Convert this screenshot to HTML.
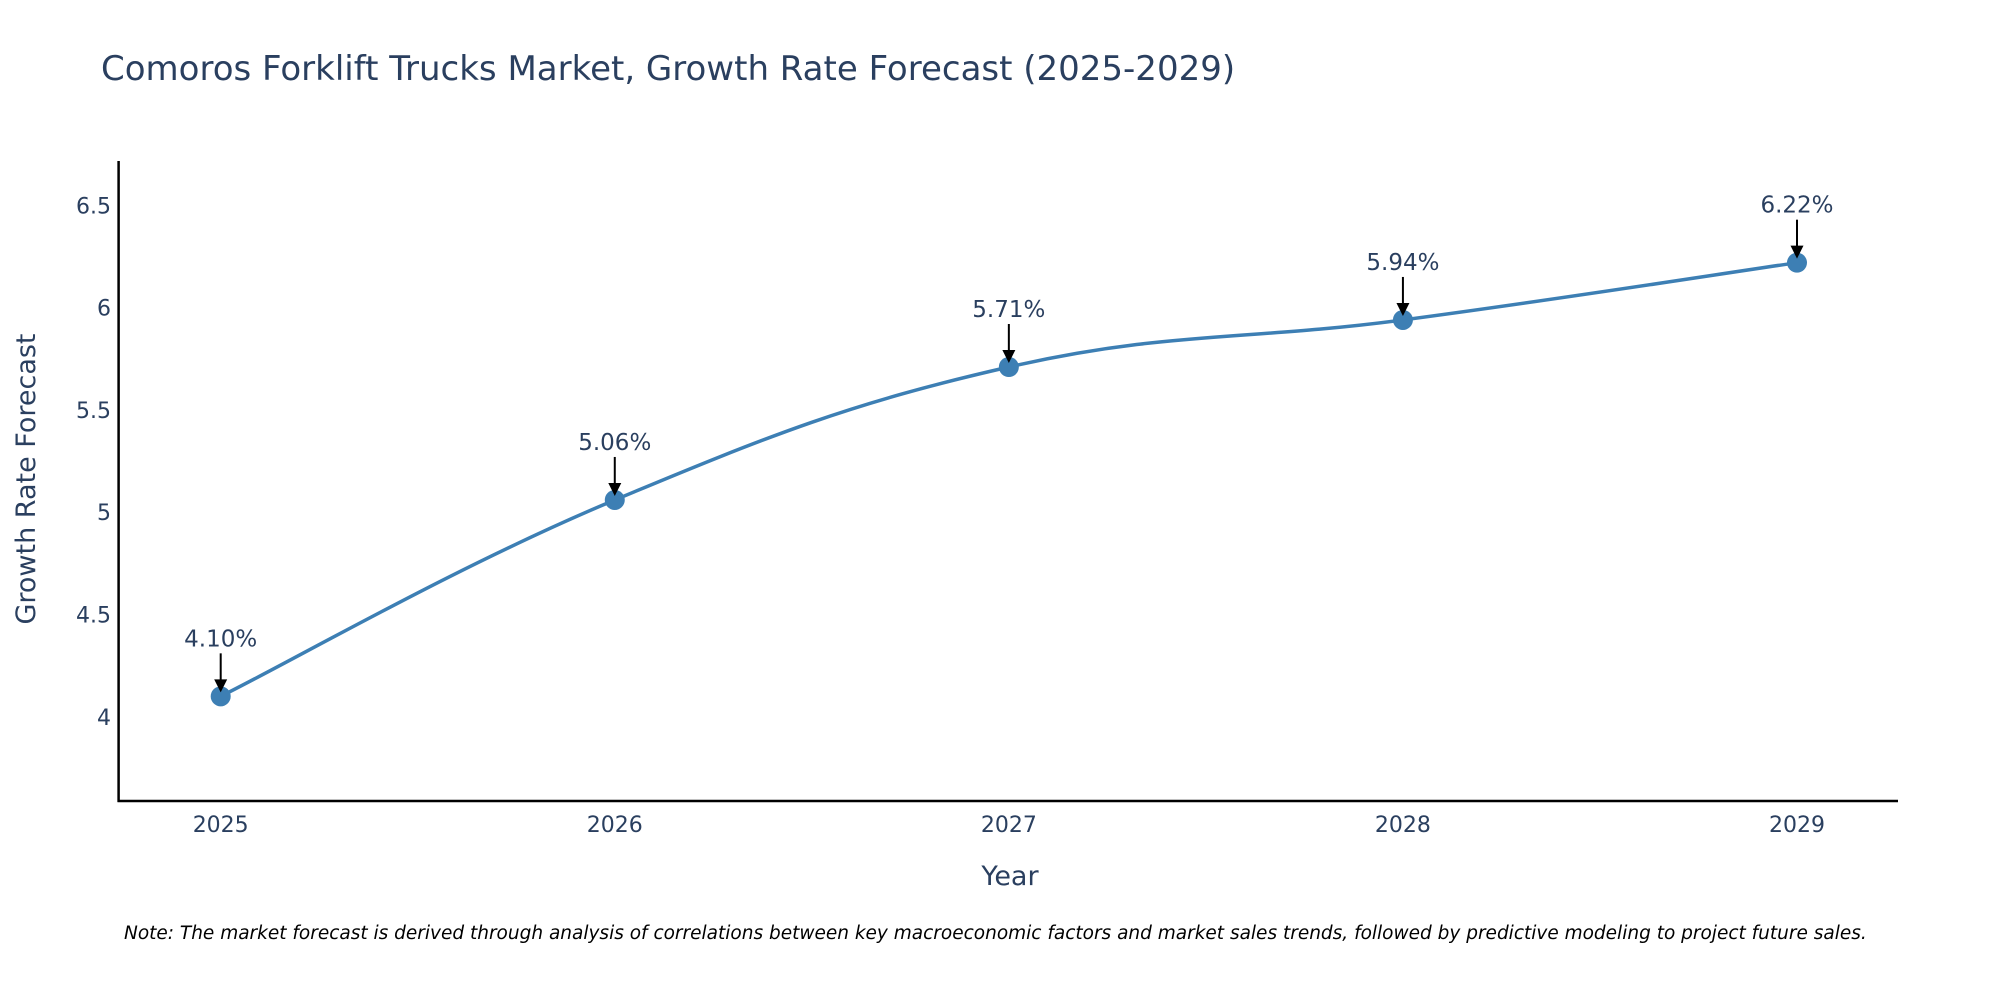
<!DOCTYPE html>
<html><head><meta charset="utf-8"><style>
html,body{margin:0;padding:0;background:#fff;}
svg{display:block;font-family:"DejaVu Sans","Liberation Sans",sans-serif;}
</style></head><body>
<svg id="chart" width="2000" height="1000" viewBox="0 0 2000 1000">
<text x="101" y="80" font-size="34" fill="#2a3f5f">Comoros Forklift Trucks Market, Growth Rate Forecast (2025-2029)</text>
<g id="yticks"></g>
<g id="xticks"></g>
<line x1="118.6" y1="161" x2="118.6" y2="802" stroke="#000" stroke-width="2.5"/>
<line x1="117.5" y1="801" x2="1898" y2="801" stroke="#000" stroke-width="2.5"/>
<g id="series"></g>
<g id="annots"></g>
<text x="1010" y="885" font-size="27" fill="#2a3f5f" text-anchor="middle">Year</text>
<text transform="translate(35,479) rotate(-90)" font-size="27" fill="#2a3f5f" text-anchor="middle">Growth Rate Forecast</text>
<text x="124" y="939" font-size="18.5" font-style="italic" fill="#000">Note: The market forecast is derived through analysis of correlations between key macroeconomic factors and market sales trends, followed by predictive modeling to project future sales.</text>
</svg>
<script>
const years = [2025, 2026, 2027, 2028, 2029];
const values = [4.10, 5.06, 5.71, 5.94, 6.22];
const labels = ["4.10%", "5.06%", "5.71%", "5.94%", "6.22%"];
const yTicks = [4, 4.5, 5, 5.5, 6, 6.5];
const yTickLabels = ["4", "4.5", "5", "5.5", "6", "6.5"];

const NS = "http://www.w3.org/2000/svg";
function xS(v){ return 220.7 + (v - 2025) * (1797 - 220.7) / 4; }
function yS(v){ return 716.8 - (v - 4) * 204.56; }
function mk(tag, attrs, parent){
  const e = document.createElementNS(NS, tag);
  for (const k in attrs) e.setAttribute(k, attrs[k]);
  parent.appendChild(e); return e;
}
const yt = document.getElementById('yticks');
yTicks.forEach((v,i)=>{
  const t = mk('text',{x:111,y:yS(v)+8,'font-size':22,fill:'#2a3f5f','text-anchor':'end'},yt);
  
  
  t.textContent = yTickLabels[i];
});
const xt = document.getElementById('xticks');
years.forEach(y=>{
  const t = mk('text',{x:xS(y),y:832,'font-size':22,fill:'#2a3f5f','text-anchor':'middle'},xt);
  
  
  t.textContent = String(y);
});
const pts = years.map((y,i)=>[xS(y), yS(values[i])]);
let d = `M${pts[0][0]},${pts[0][1]}`;
const s = 0.6/3;
for (let i=0;i<pts.length-1;i++){
  const p0 = pts[i-1]||pts[i], p1=pts[i], p2=pts[i+1], p3=pts[i+2]||pts[i+1];
  const c1=[p1[0]+(p2[0]-p0[0])*s, p1[1]+(p2[1]-p0[1])*s];
  const c2=[p2[0]-(p3[0]-p1[0])*s, p2[1]-(p3[1]-p1[1])*s];
  d += ` C${c1[0]},${c1[1]} ${c2[0]},${c2[1]} ${p2[0]},${p2[1]}`;
}
const sg = document.getElementById('series');
const line = mk('path',{d:d,fill:'none',stroke:'#3d7fb4','stroke-width':3.5},sg);


pts.forEach(p=>{
  const c = mk('circle',{cx:p[0],cy:p[1],r:10,fill:'#3d7fb4'},sg);
  
  
});
const ag = document.getElementById('annots');
pts.forEach((p,i)=>{
  const l = mk('line',{x1:p[0],y1:p[1]-43,x2:p[0],y2:p[1]-14,stroke:'#000','stroke-width':2},ag);
  
  
  const h = mk('polygon',{points:`${p[0]-6.5},${p[1]-17} ${p[0]+6.5},${p[1]-17} ${p[0]},${p[1]-4}`,fill:'#000'},ag);
  
  
  const t = mk('text',{x:p[0],y:p[1]-50,'font-size':23,fill:'#2a3f5f','text-anchor':'middle'},ag);
  
  
  t.textContent = labels[i];
});
</script>
</body></html>
